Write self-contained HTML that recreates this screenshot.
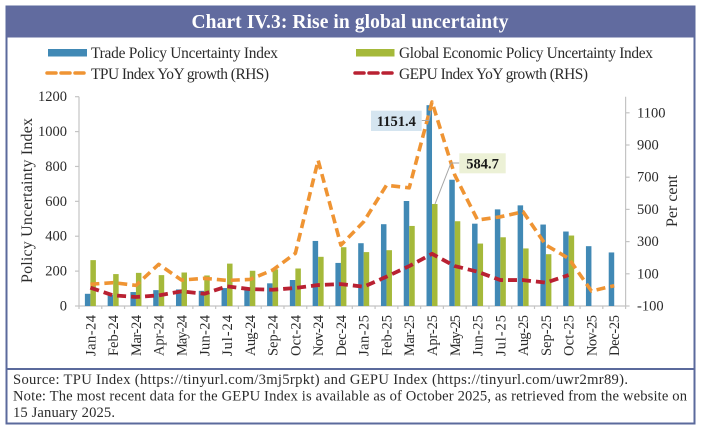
<!DOCTYPE html>
<html lang="en">
<head>
<meta charset="utf-8">
<title>Chart IV.3: Rise in global uncertainty</title>
<style>
html,body{margin:0;padding:0;background:#fff;}
body{width:701px;height:429px;overflow:hidden;}
svg{display:block;}
text{font-family:"Liberation Serif",serif;fill:#2b2b2b;}
</style>
</head>
<body>
<svg id="chart" xmlns="http://www.w3.org/2000/svg" width="701" height="429" viewBox="0 0 701 429">
  <rect x="6.5" y="6.5" width="688" height="417" fill="#fff" stroke="#5b6a9c" stroke-width="2"/>
  <rect x="6.5" y="6.5" width="688" height="31" fill="#616b9f"/>
  <text x="350" y="28" text-anchor="middle" font-size="19.5" font-weight="700" textLength="317" lengthAdjust="spacing" style="fill:#fff">Chart IV.3: Rise in global uncertainty</text>

  <g>
    <rect x="48" y="49" width="39" height="7.5" fill="#4189b5"/>
    <text x="91" y="58" font-size="15.4" textLength="187" lengthAdjust="spacing">Trade Policy Uncertainty Index</text>
    <rect x="356" y="49" width="38.5" height="7.5" fill="#a5b93a"/>
    <text x="399" y="58" font-size="15.4" textLength="254" lengthAdjust="spacing">Global Economic Policy Uncertainty Index</text>
    <line x1="47" y1="73" x2="84" y2="73" stroke="#ef9433" stroke-width="3.5" stroke-dasharray="9 5" stroke-linecap="round"/>
    <text x="91" y="79" font-size="15.4" textLength="178" lengthAdjust="spacing">TPU Index YoY growth (RHS)</text>
    <line x1="355" y1="73" x2="392" y2="73" stroke="#b92132" stroke-width="3.5" stroke-dasharray="9 5" stroke-linecap="round"/>
    <text x="399" y="79" font-size="15.4" textLength="189" lengthAdjust="spacing">GEPU Index YoY growth (RHS)</text>
  </g>

  <g id="axes"></g>
  <g id="bars"></g>
  <g id="lines"></g>
  <g id="callouts"></g>

  <text transform="translate(32 200.5) rotate(-90)" text-anchor="middle" font-size="16" textLength="165" lengthAdjust="spacing">Policy Uncertainty Index</text>
  <text transform="translate(677 201) rotate(-90)" text-anchor="middle" font-size="16" textLength="52" lengthAdjust="spacing">Per cent</text>

  <line x1="6.5" y1="369" x2="694.5" y2="369" stroke="#5b6a9c" stroke-width="2"/>
  <g>
    <text x="13" y="384" font-size="14.6" textLength="615" lengthAdjust="spacing">Source: TPU Index (https://tinyurl.com/3mj5rpkt) and GEPU Index (https://tinyurl.com/uwr2mr89).</text>
    <text x="13" y="400.5" font-size="14.6" textLength="674" lengthAdjust="spacing">Note: The most recent data for the GEPU Index is available as of October 2025, as retrieved from the website on</text>
    <text x="13" y="417" font-size="14.6" textLength="102" lengthAdjust="spacing">15 January 2025.</text>
  </g>
</svg>
<script>
var categories = ["Jan-24","Feb-24","Mar-24","Apr-24","May-24","Jun-24","Jul-24","Aug-24","Sep-24","Oct-24","Nov-24","Dec-24","Jan-25","Feb-25","Mar-25","Apr-25","May-25","Jun-25","Jul-25","Aug-25","Sep-25","Oct-25","Nov-25","Dec-25"];
var tpuIndex = [70,65,80,91,95,87,103,100,130,149,373,247,360,469,602,1151.4,724,472,554,577,467,427,343,307];
var gepuIndex = [263,183,190,177,192,175,243,202,210,215,282,337,309,320,459,584.7,486,358,394,330,297,404,null,null];
var tpuGrowth = [35,45,28,159,61,72,59,65,123,227,805,278,423,650,634,1167,713,434,454,485,278,196,-7,26];
var gepuGrowth = [14,-34,-44,-34,-9,-24,22,5,1,12,30,36,20,82,148,224,148,113,61,61,45,92,null,null];
var leftTicks = [0,200,400,600,800,1000,1200];
var rightTicks = [-100,100,300,500,700,900,1100];
var leftDomain = [0,1200];
var rightDomain = [-100,1200];

var NS = "http://www.w3.org/2000/svg";
var plotLeft = 79, plotRight = 625.6, plotTop = 96.7, plotBottom = 306;
var barWidth = 5.5;

function xBand(i){ return plotLeft + (plotRight - plotLeft) * (i + 0.5) / categories.length; }
function xEdge(i){ return plotLeft + (plotRight - plotLeft) * i / categories.length; }
function yLeft(v){ return plotBottom - (v - leftDomain[0]) / (leftDomain[1] - leftDomain[0]) * (plotBottom - plotTop); }
function yRight(v){ return plotBottom - (v - rightDomain[0]) / (rightDomain[1] - rightDomain[0]) * (plotBottom - plotTop); }
function make(tag, parent, attrs, text){
  var e = document.createElementNS(NS, tag);
  for (var k in attrs) e.setAttribute(k, attrs[k]);
  if (text !== undefined) e.textContent = text;
  parent.appendChild(e);
  return e;
}
var axes = document.getElementById("axes");
var bars = document.getElementById("bars");
var lines = document.getElementById("lines");
var callouts = document.getElementById("callouts");
var axisColor = "#c4c4c4";

var el;
el = make("line", axes, {x1:plotLeft,y1:plotTop,x2:plotLeft,y2:plotBottom,stroke:axisColor,"stroke-width":1.2});


el = make("line", axes, {x1:plotRight,y1:plotTop,x2:plotRight,y2:plotBottom,stroke:axisColor,"stroke-width":1.2});


el = make("line", axes, {x1:plotLeft,y1:plotBottom,x2:plotRight,y2:plotBottom,stroke:axisColor,"stroke-width":1.2});



leftTicks.forEach(function(t){
  var y = yLeft(t);
  var m = make("line", axes, {x1:plotLeft-4,y1:y,x2:plotLeft,y2:y,stroke:axisColor,"stroke-width":1.2});
  
  
  var l = make("text", axes, {x:67,y:y+4.5,"text-anchor":"end","font-size":14.5}, String(t));
  
  
});
rightTicks.forEach(function(t){
  var y = yRight(t);
  var m = make("line", axes, {x1:plotRight,y1:y,x2:plotRight+4,y2:y,stroke:axisColor,"stroke-width":1.2});
  
  
  var l = make("text", axes, {x:637,y:y+4.5,"font-size":14.5}, String(t));
  
  
});
for (var e = 0; e <= categories.length; e++) {
  var tk = make("line", axes, {x1:xEdge(e),y1:plotBottom,x2:xEdge(e),y2:plotBottom+3,stroke:axisColor,"stroke-width":1.2});
  
  
}
categories.forEach(function(c, i){
  var x = xBand(i) + 5;
  var l = make("text", axes, {transform:"translate("+x+" 315) rotate(-90)","text-anchor":"end","font-size":14.5,textLength:41,lengthAdjust:"spacing"}, c);
  
  
});

categories.forEach(function(c, i){
  var x = xBand(i);
  if (tpuIndex[i] !== null) {
    var b1 = make("rect", bars, {x:x-barWidth,y:yLeft(tpuIndex[i]),width:barWidth,height:plotBottom-yLeft(tpuIndex[i]),fill:"#4189b5"});
    
    
  }
  if (gepuIndex[i] !== null) {
    var b2 = make("rect", bars, {x:x,y:yLeft(gepuIndex[i]),width:barWidth,height:plotBottom-yLeft(gepuIndex[i]),fill:"#a5b93a"});
    
    
  }
});

function linePoints(series){
  var pts = [];
  series.forEach(function(v, i){ if (v !== null) pts.push(xBand(i).toFixed(2) + "," + yRight(v).toFixed(2)); });
  return pts.join(" ");
}
el = make("polyline", lines, {points:linePoints(tpuGrowth),fill:"none",stroke:"#ef9433","stroke-width":3.6,"stroke-dasharray":"9 5","stroke-linejoin":"round"});


el = make("polyline", lines, {points:linePoints(gepuGrowth),fill:"none",stroke:"#b92132","stroke-width":3.8,"stroke-dasharray":"9 5","stroke-linejoin":"round"});



var peak = tpuIndex.indexOf(Math.max.apply(null, tpuIndex));
var peakX = xBand(peak);
el = make("polyline", callouts, {points:"421.7,120.5 "+(peakX-3)+",120.5 "+(peakX-1)+","+(yLeft(tpuIndex[peak])+6),fill:"none",stroke:"#a6a6a6","stroke-width":1});


el = make("rect", callouts, {x:371,y:110.7,width:50.7,height:20.3,fill:"#d5e5f0"});


el = make("text", callouts, {x:396.3,y:126,"text-anchor":"middle","font-size":14.5,"font-weight":700,style:"fill:#1a1a1a"}, String(tpuIndex[peak]));



el = make("polyline", callouts, {points:"459.3,163 451,163 "+(peakX+3)+","+yLeft(gepuIndex[peak]),fill:"none",stroke:"#a6a6a6","stroke-width":1});


el = make("rect", callouts, {x:459.3,y:153.3,width:46.4,height:20,fill:"#ecf1d6"});


el = make("text", callouts, {x:482.5,y:168.5,"text-anchor":"middle","font-size":14.5,"font-weight":700,style:"fill:#1a1a1a"}, String(gepuIndex[peak]));


</script>
</body>
</html>
